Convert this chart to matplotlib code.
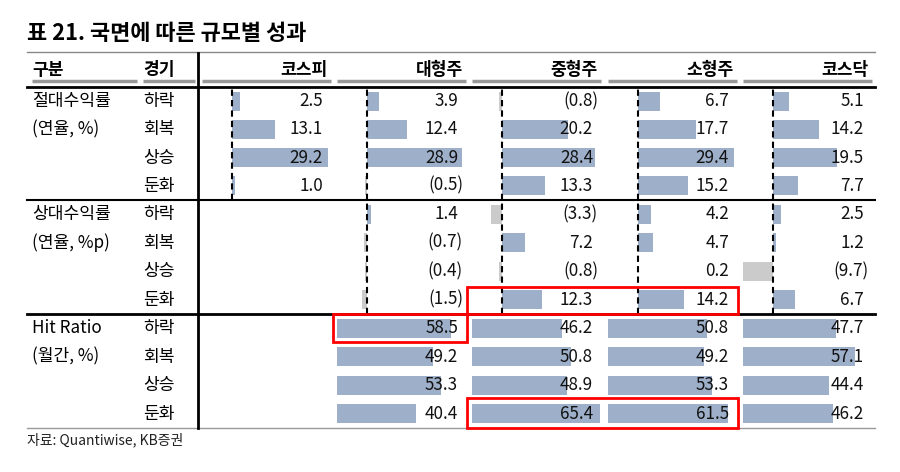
import matplotlib
matplotlib.use('Agg')
import matplotlib.pyplot as plt
from matplotlib.patches import Rectangle
from matplotlib.transforms import blended_transform_factory

plt.rcParams['font.family'] = ['Noto Sans CJK KR', 'DejaVu Sans']

# data
columns = ['코스피', '대형주', '중형주', '소형주', '코스닥']
phases = ['하락', '회복', '상승', '둔화']
sections = [('절대수익률', '(연율, %)'), ('상대수익률', '(연율, %p)'), ('Hit Ratio', '(월간, %)')]

abs_ret = {
    '코스피': [2.5, 13.1, 29.2, 1.0],
    '대형주': [3.9, 12.4, 28.9, -0.5],
    '중형주': [-0.8, 20.2, 28.4, 13.3],
    '소형주': [6.7, 17.7, 29.4, 15.2],
    '코스닥': [5.1, 14.2, 19.5, 7.7],
}
rel_ret = {
    '대형주': [1.4, -0.7, -0.4, -1.5],
    '중형주': [-3.3, 7.2, -0.8, 12.3],
    '소형주': [4.2, 4.7, 0.2, 14.2],
    '코스닥': [2.5, 1.2, -9.7, 6.7],
}
hit_ratio = {
    '대형주': [58.5, 49.2, 53.3, 40.4],
    '중형주': [46.2, 50.8, 48.9, 65.4],
    '소형주': [50.8, 49.2, 53.3, 61.5],
    '코스닥': [47.7, 57.1, 44.4, 46.2],
}

W, H = 900, 472
BLUE = '#9dafc9'
GRAY = '#cbcbcb'
FS = 12.3

col_left = [202, 337, 472, 608, 743]
col_w = 135
sec_y = [(87, 200), (200, 314), (314, 428)]

fig = plt.figure(figsize=(W / 100, H / 100), dpi=100)
ax = fig.add_axes([0, 0, 1, 1])
ax.set_xlim(0, W)
ax.set_ylim(H, 0)
ax.axis('off')

def sub_axes(x0, y0, x1, y1):
    a = fig.add_axes([x0 / W, 1 - y1 / H, (x1 - x0) / W, (y1 - y0) / H])
    a.patch.set_alpha(0)
    a.axis('off')
    return a

def fmt(v):
    return '(%.1f)' % abs(v) if v < 0 else '%.1f' % v

# title and source
ax.text(27, 34, '표 21. 국면에 따른 규모별 성과', fontsize=15.8, fontweight='bold', va='center', ha='left')
ax.text(27, 440, '자료: Quantiwise, KB증권', fontsize=10, va='center', ha='left', color='#222222')

# header
ax.text(32, 70, '구분', fontsize=FS, fontweight='bold', va='center')
ax.text(143, 70, '경기', fontsize=FS, fontweight='bold', va='center')
ax.plot([32, 137], [81, 81], color='#999999', lw=2.5, solid_capstyle='butt')
ax.plot([143, 195], [81, 81], color='#999999', lw=2.5, solid_capstyle='butt')
for name, x0 in zip(columns, col_left):
    ax.text(x0 + 126, 70, name, fontsize=FS, fontweight='bold', va='center', ha='right')
    ax.plot([x0, x0 + 129], [81, 81], color='#999999', lw=2.5, solid_capstyle='butt')

# frame lines
ax.plot([27, 875], [52, 52], color='#888888', lw=1)
ax.plot([27, 875], [87, 87], color='black', lw=2)
ax.plot([27, 875], [200, 200], color='black', lw=1.5)
ax.plot([27, 875], [314, 314], color='black', lw=2)
ax.plot([27, 875], [428, 428], color='#999999', lw=1)
ax.plot([198, 198], [53, 428], color='black', lw=2)

# row labels
for (title, unit), (y0, y1) in zip(sections, sec_y):
    rh = (y1 - y0) / 4
    ax.text(32, y0 + rh * 0.5, title, fontsize=FS, va='center')
    ax.text(32, y0 + rh * 1.5, unit, fontsize=FS, va='center')
    for i, p in enumerate(phases):
        ax.text(143, y0 + rh * (i + 0.5), p, fontsize=FS, va='center')

# bar blocks
blocks = [(abs_ret, sec_y[0], 'ret'), (rel_ret, sec_y[1], 'ret'), (hit_ratio, sec_y[2], 'hit')]
for data, (y0, y1), kind in blocks:
    for name, x0 in zip(columns, col_left):
        if name not in data:
            continue
        vals = data[name]
        a = sub_axes(x0, y0, x0 + col_w, y1)
        a.set_ylim(3.5, -0.5)
        if kind == 'ret':
            scale = 3.29
            a.set_xlim(-29.5 / scale, (col_w - 29.5) / scale)
            a.axvline(0, color='black', lw=1.5, ls=(0, (3, 2)))
        else:
            scale = 1.97
            a.set_xlim(0.5, col_w / scale + 0.5)
        a.barh(range(4), vals, height=0.67,
               color=[BLUE if v >= 0 else GRAY for v in vals])
        tr = blended_transform_factory(a.transAxes, a.transData)
        for i, v in enumerate(vals):
            xr = (121 if v >= 0 else 126) / col_w
            a.text(xr, i, fmt(v), transform=tr, ha='right', va='center', fontsize=FS, color='#111111')

# highlight boxes
top = sub_axes(0, 0, W, H)
top.set_xlim(0, W)
top.set_ylim(H, 0)
for (x0, y0, x1, y1) in [(333, 314, 467, 342), (467, 287, 738, 314), (467, 398, 738, 428)]:
    top.add_patch(Rectangle((x0, y0), x1 - x0, y1 - y0, fill=False, ec='#ff0000', lw=2))

fig.savefig('out.png', dpi=100)
